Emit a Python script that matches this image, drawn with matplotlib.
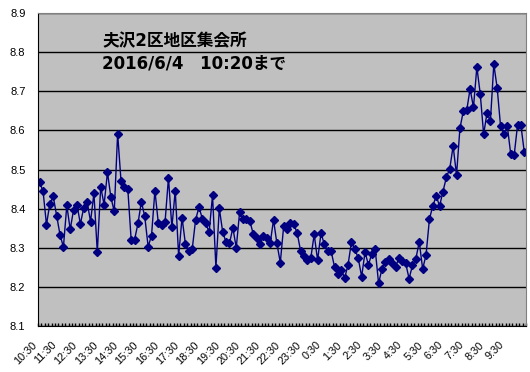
import matplotlib.pyplot as plt
import matplotlib.transforms as mtransforms
import numpy as np

plt.rcParams['font.family'] = ['Liberation Sans', 'DejaVu Sans']

# hourly category labels (one every 6 points, 10-minute data)
hour_labels = ["10:30", "11:30", "12:30", "13:30", "14:30", "15:30", "16:30",
               "17:30", "18:30", "19:30", "20:30", "21:30", "22:30", "23:30",
               "0:30", "1:30", "2:30", "3:30", "4:30", "5:30", "6:30", "7:30",
               "8:30", "9:30"]

title_place = "夫沢2区地区集会所"
title_date = "2016/6/4\u300010:20まで"

# 10:30 -> 10:20 next day, every 10 minutes
values = [
    8.467, 8.444, 8.359, 8.413, 8.431, 8.382, 8.333, 8.302, 8.408, 8.347,
    8.397, 8.410, 8.361, 8.402, 8.417, 8.367, 8.439, 8.289, 8.456, 8.410,
    8.493, 8.429, 8.393, 8.592, 8.470, 8.454, 8.450, 8.319, 8.321, 8.362,
    8.418, 8.380, 8.303, 8.331, 8.446, 8.363, 8.357, 8.367, 8.479, 8.352,
    8.446, 8.279, 8.377, 8.310, 8.292, 8.296, 8.371, 8.404, 8.374, 8.362,
    8.340, 8.434, 8.249, 8.401, 8.340, 8.314, 8.311, 8.351, 8.300, 8.392,
    8.373, 8.373, 8.368, 8.336, 8.326, 8.309, 8.329, 8.326, 8.311, 8.371,
    8.311, 8.262, 8.356, 8.349, 8.362, 8.360, 8.337, 8.291, 8.280, 8.268,
    8.274, 8.334, 8.268, 8.337, 8.309, 8.291, 8.291, 8.251, 8.233, 8.244,
    8.223, 8.257, 8.315, 8.297, 8.273, 8.226, 8.289, 8.256, 8.285, 8.296,
    8.209, 8.246, 8.263, 8.270, 8.260, 8.252, 8.273, 8.266, 8.260, 8.221,
    8.255, 8.272, 8.315, 8.246, 8.281, 8.373, 8.407, 8.432, 8.407, 8.443,
    8.480, 8.502, 8.560, 8.486, 8.605, 8.649, 8.651, 8.706, 8.659, 8.762,
    8.693, 8.590, 8.645, 8.624, 8.769, 8.708, 8.610, 8.590, 8.610, 8.539,
    8.536, 8.613, 8.613, 8.544,
]

x = np.arange(len(values))

fig = plt.figure(figsize=(5.3, 3.72), dpi=100)
ax = fig.add_axes([38/530, 1 - 326/372, 488/530, 313/372])
ax.set_facecolor('#c0c0c0')
ax.set_axisbelow(True)

ax.plot(x, values, color='#000080', lw=1, marker='D', ms=4.2,
        mfc='#000080', mec='#000080')

ax.set_xlim(-0.5, len(values) - 0.5)
ax.set_ylim(8.1, 8.9)
ax.set_yticks(np.arange(8.1, 8.91, 0.1))
ax.yaxis.set_major_formatter('{x:.1f}')
ax.grid(axis='y', color='black', lw=1)
ax.tick_params(axis='y', length=0, pad=9, labelsize=8)

ax.set_xticks(x[::6])
ax.set_xticklabels(hour_labels, rotation=45, ha='right', va='top',
                   rotation_mode='anchor', fontsize=7.8)
ax.set_xticks(np.arange(-0.5, len(values)), minor=True)
ax.tick_params(axis='x', which='major', length=0, pad=10)
ax.tick_params(axis='x', which='minor', direction='in', length=2, width=1)

# nudge the rotated labels left, like the original
shift = mtransforms.ScaledTranslation(-6/72, 0, fig.dpi_scale_trans)
for lab in ax.get_xticklabels():
    lab.set_transform(lab.get_transform() + shift)

for side in ['top', 'right']:
    ax.spines[side].set_color('#808080')
for side in ['left', 'bottom']:
    ax.spines[side].set_color('black')

title_fonts = ['DejaVu Sans', 'Noto Sans CJK JP']
fig.text(102/530, 1 - 41/372, title_place, fontsize=12, fontweight='bold',
         family=title_fonts, va='center', ha='left')
fig.text(102/530, 1 - 64/372, title_date, fontsize=12, fontweight='bold',
         family=title_fonts, va='center', ha='left')

plt.savefig('out.png', dpi=100)
plt.close()
